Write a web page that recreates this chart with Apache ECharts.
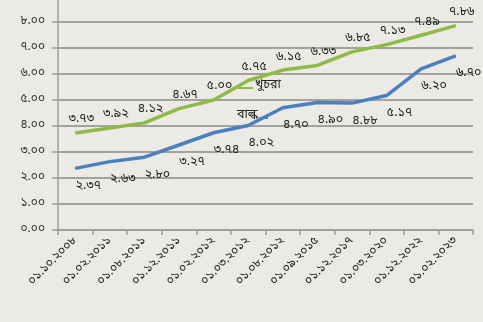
<!DOCTYPE html>
<html>
<head>
<meta charset="utf-8">
<script src="https://cdn.jsdelivr.net/npm/echarts@6/dist/echarts.min.js"></script>
<style>
  html, body { margin: 0; padding: 0; background: #ebeae4; }
  #chart { width: 483px; height: 322px; }
</style>
</head>
<body>
<div id="chart"></div>
<script>
// Effective dates of the price changes
const categories = [
  '০১.১০.২০০৮', '০১.০২.২০১১', '০১.০৮.২০১১', '০১.১২.২০১১',
  '০১.০২.২০১২', '০১.০৩.২০১২', '০১.০৮.২০১২', '০১.০৯.২০১৫',
  '০১.১২.২০১৭', '০১.০৩.২০২০', '০১.১২.২০২২', '০১.০২.২০২৩'
];
// Retail (খুচরা) and bulk (বাল্ক) rates
const retailValues = [3.73, 3.92, 4.12, 4.67, 5.00, 5.75, 6.15, 6.33, 6.85, 7.13, 7.49, 7.86];
const bulkValues   = [2.37, 2.63, 2.80, 3.27, 3.74, 4.02, 4.70, 4.90, 4.88, 5.17, 6.20, 6.70];
const yTicks = [0, 1, 2, 3, 4, 5, 6, 7, 8, 9];

const bnDigits = ['০','১','২','৩','৪','৫','৬','৭','৮','৯'];
function toBn(v) {
  return v.toFixed(2).replace(/[0-9]/g, d => bnDigits[+d]);
}

const FONT = '"Noto Sans Bengali", "Noto Sans", "DejaVu Sans", sans-serif';
const chart = echarts.init(document.getElementById('chart'));

function lineSeries(name, data, color, pos, dist, dx) {
  return {
    name: name,
    type: 'line',
    data: data,
    symbol: 'circle',
    symbolSize: 1,
    showSymbol: true,
    itemStyle: { color: color },
    lineStyle: { color: color, width: 3.5 },
    label: {
      show: true, position: pos, distance: dist, offset: [dx, 0], color: '#222',
      fontSize: 12.5, fontFamily: FONT,
      formatter: p => toBn(p.value)
    }
  };
}

chart.setOption({
  backgroundColor: '#ebeae4',
  animation: false,
  grid: {
    left: 58, right: 10, top: -4, bottom: 92,
    containLabel: false, outerBoundsMode: 'none'
  },
  xAxis: {
    type: 'category',
    data: categories,
    boundaryGap: true,
    axisLine: { lineStyle: { color: '#9e9d98', width: 1.5 } },
    axisTick: { show: true, length: 5, lineStyle: { color: '#9e9d98', width: 1.5 } },
    axisLabel: {
      interval: 0, rotate: 45, color: '#222', fontSize: 12, fontFamily: FONT,
      margin: 9
    },
    splitLine: { show: false }
  },
  yAxis: {
    type: 'value',
    min: yTicks[0], max: yTicks[yTicks.length - 1], interval: 1,
    axisLine: { show: true, lineStyle: { color: '#9e9d98', width: 1.5 } },
    axisTick: { show: true, length: 6, lineStyle: { color: '#9e9d98', width: 1.5 } },
    axisLabel: {
      color: '#333', fontSize: 12, fontFamily: FONT, margin: 13,
      formatter: v => toBn(v)
    },
    splitLine: { show: true, lineStyle: { color: '#a3a29d', width: 2 } }
  },
  series: [
    lineSeries('খুচরা', retailValues, '#8fba45', 'top', 6, 6),
    lineSeries('বাল্ক', bulkValues, '#4a80c0', 'bottom', 11, 13)
  ],
  graphic: [
    // callout for the retail line
    { type: 'line', shape: { x1: 238, y1: 88, x2: 253, y2: 88 }, style: { stroke: '#8fba45', lineWidth: 2 } },
    { type: 'text', left: 255, top: 79, style: { text: 'খুচরা', fill: '#222', font: '12.5px ' + FONT } },
    // callout for the bulk line
    { type: 'line', shape: { x1: 259, y1: 118, x2: 268, y2: 118 }, style: { stroke: '#4a80c0', lineWidth: 2 } },
    { type: 'text', left: 237, top: 109, style: { text: 'বাল্ক', fill: '#222', font: '12.5px ' + FONT } }
  ]
});
</script>
</body>
</html>
